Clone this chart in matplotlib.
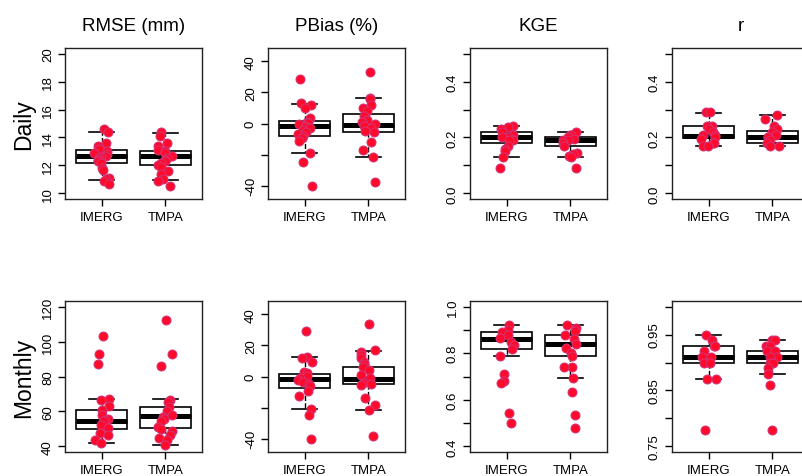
import matplotlib
matplotlib.use("Agg")
import matplotlib.pyplot as plt
import numpy as np

# ---- data ----
groups = ["IMERG", "TMPA"]
titles = ["RMSE (mm)", "PBias (%)", "KGE", "r"]
row_labels = ["Daily", "Monthly"]

# points per station
rmse_daily_imerg = [14.6, 14.4, 13.6, 13.4, 13.2, 13.0, 12.9, 12.8, 12.7, 12.6,
                    12.5, 12.4, 12.3, 12.2, 11.8, 11.7, 11.1, 11.0, 10.9, 10.7]
rmse_daily_tmpa = [14.4, 14.1, 13.6, 13.4, 13.1, 13.0, 12.9, 12.7, 12.5, 12.4,
                   12.3, 12.2, 12.0, 11.9, 11.6, 11.4, 11.0, 10.9, 10.5]
pbias_daily_imerg = [28.5, 13, 12, 10, 3.5, 1, 0.5, -0.5, -1.5, -2,
                     -3, -4.5, -5.5, -7, -8, -9.5, -11, -19, -25, -40]
pbias_daily_tmpa = [33, 16.7, 16, 12, 10, 8, 4.7, 2.5, 1, -0.5,
                    -1.3, -3, -5, -5.5, -12, -17, -21.5, -37.5]
kge_daily_imerg = [0.24, 0.237, 0.23, 0.22, 0.21, 0.2, 0.2, 0.19, 0.19,
                   0.17, 0.16, 0.15, 0.13, 0.09]
kge_daily_tmpa = [0.22, 0.21, 0.21, 0.2, 0.195, 0.19, 0.19, 0.18, 0.17,
                  0.145, 0.14, 0.135, 0.13, 0.09]
r_daily_imerg = [0.29, 0.29, 0.24, 0.24, 0.23, 0.22, 0.21, 0.21, 0.2,
                 0.195, 0.18, 0.18, 0.17, 0.17]
r_daily_tmpa = [0.28, 0.265, 0.24, 0.23, 0.22, 0.21, 0.2, 0.2, 0.19,
                0.18, 0.17, 0.17]

rmse_monthly_imerg = [102.9, 92.6, 87.3, 67.3, 66.3, 63.4, 60.6, 57.7, 55.8,
                      55.0, 54.3, 52.0, 50.5, 47.7, 46.3, 43.8, 42.1]
rmse_monthly_tmpa = [112.2, 93.1, 85.9, 66.5, 65.4, 62.5, 60.0, 58.1, 57.0,
                     55.8, 54.3, 51.1, 50.0, 48.6, 46.7, 44.8, 43.4, 40.6]
pbias_monthly_imerg = [29, 12.7, 11.6, 9.5, 3, 2, 0.4, -1, -2, -3.4,
                       -5, -6, -9.5, -12.5, -21, -24.5, -40]
pbias_monthly_tmpa = [33.5, 16.8, 15.5, 13.7, 11.6, 9.5, 8, 6, 4, 0.9,
                      -1, -3.9, -5, -5.6, -13.8, -18.5, -21.5, -38]
kge_monthly_imerg = [0.922, 0.901, 0.89, 0.876, 0.865, 0.847, 0.836, 0.819,
                     0.79, 0.71, 0.68, 0.673, 0.543, 0.502]
kge_monthly_tmpa = [0.922, 0.91, 0.897, 0.879, 0.862, 0.84, 0.822, 0.802,
                    0.787, 0.74, 0.74, 0.693, 0.633, 0.533, 0.48]
r_monthly_imerg = [0.95, 0.94, 0.93, 0.93, 0.92, 0.91, 0.91, 0.90, 0.90,
                   0.87, 0.87, 0.78]
r_monthly_tmpa = [0.94, 0.94, 0.93, 0.93, 0.92, 0.92, 0.91, 0.91, 0.90,
                  0.90, 0.89, 0.88, 0.86, 0.78]

# box stats: (q1, median, q3, lower whisker, upper whisker) for IMERG, TMPA
rmse_daily_box = [(12.21, 12.67, 13.12, 10.93, 14.38), (12.02, 12.67, 13.02, 10.93, 14.33)]
pbias_daily_box = [(-7.8, -1.8, 1.7, -19.2, 12.4), (-5.6, -0.9, 6.0, -21.5, 16.7)]
kge_daily_box = [(0.179, 0.203, 0.221, 0.129, 0.24), (0.169, 0.191, 0.201, 0.13, 0.221)]
r_daily_box = [(0.197, 0.207, 0.240, 0.17, 0.288), (0.180, 0.201, 0.222, 0.17, 0.279)]
rmse_monthly_box = [(50.1, 54.5, 60.6, 42.1, 67.3), (50.7, 57.3, 62.5, 40.6, 66.9)]
pbias_monthly_box = [(-7.7, -1.7, 1.9, -21.1, 12.3), (-5.0, -1.3, 6.0, -21.3, 16.3)]
kge_monthly_box = [(0.819, 0.862, 0.889, 0.789, 0.922), (0.787, 0.841, 0.879, 0.693, 0.922)]
r_monthly_box = [(0.900, 0.910, 0.929, 0.871, 0.950), (0.900, 0.910, 0.920, 0.880, 0.941)]

# y axis limits and ticks per panel
ylims = [[(10, 20), (-45, 45), (0, 0.5), (0, 0.5)],
         [(40, 120), (-45, 45), (0.4, 1.0), (0.75, 1.0)]]
yticks = [[[10, 12, 14, 16, 18, 20], [-40, -20, 0, 20, 40],
           [0, 0.1, 0.2, 0.3, 0.4, 0.5], [0, 0.1, 0.2, 0.3, 0.4, 0.5]],
          [[40, 60, 80, 100, 120], [-40, -20, 0, 20, 40],
           [0.4, 0.5, 0.6, 0.7, 0.8, 0.9, 1.0], [0.75, 0.8, 0.85, 0.9, 0.95, 1.0]]]
yticklabels = [[["10", "12", "14", "16", "18", "20"], ["-40", "", "0", "20", "40"],
                ["0.0", "", "0.2", "", "0.4", ""], ["0.0", "", "0.2", "", "0.4", ""]],
               [["40", "60", "80", "100", "120"], ["-40", "", "0", "20", "40"],
                ["0.4", "", "0.6", "", "0.8", "", "1.0"], ["0.75", "", "0.85", "", "0.95", ""]]]

points = [[(rmse_daily_imerg, rmse_daily_tmpa), (pbias_daily_imerg, pbias_daily_tmpa),
           (kge_daily_imerg, kge_daily_tmpa), (r_daily_imerg, r_daily_tmpa)],
          [(rmse_monthly_imerg, rmse_monthly_tmpa), (pbias_monthly_imerg, pbias_monthly_tmpa),
           (kge_monthly_imerg, kge_monthly_tmpa), (r_monthly_imerg, r_monthly_tmpa)]]
boxes = [[rmse_daily_box, pbias_daily_box, kge_daily_box, r_daily_box],
         [rmse_monthly_box, pbias_monthly_box, kge_monthly_box, r_monthly_box]]


def pad_lim(lo, hi):
    # R style 4% extension
    d = (hi - lo) * 0.04
    return lo - d, hi + d


plt.rcParams["font.family"] = ["Liberation Sans", "DejaVu Sans"]
plt.rcParams["axes.unicode_minus"] = False

W, H = 802, 477
fig = plt.figure(figsize=(W / 100, H / 100), dpi=100)

lefts = [65, 268, 470, 672]
tops = [49, 302]
aw, ah = 137, 151

rng = np.random.default_rng(7)

for r in range(2):
    for c in range(4):
        ax = fig.add_axes([lefts[c] / W, 1 - (tops[r] + ah) / H, aw / W, ah / H])
        stats = []
        for q1, med, q3, lo, hi in boxes[r][c]:
            stats.append({"q1": q1, "med": med, "q3": q3,
                          "whislo": lo, "whishi": hi, "fliers": []})
        ax.bxp(stats, positions=[1, 2], widths=0.8, capwidths=0.4,
               showfliers=False, patch_artist=True,
               boxprops=dict(facecolor="white", edgecolor="black", linewidth=1.2),
               medianprops=dict(color="black", linewidth=3.6, solid_capstyle="butt"),
               whiskerprops=dict(color="black", linewidth=1.0, linestyle="--"),
               capprops=dict(color="black", linewidth=1.2))
        for gi, vals in enumerate(points[r][c]):
            jit = rng.uniform(-0.12, 0.12, len(vals))
            ax.scatter(gi + 1 + jit, vals, s=42, color="#ff0a2a",
                       edgecolors="#d0347a", linewidths=0.7, zorder=5)

        ax.set_xlim(0.42, 2.58)
        ax.set_ylim(*pad_lim(*ylims[r][c]))
        ax.set_xticks([1, 2])
        ax.set_xticklabels(groups)
        ax.set_yticks(yticks[r][c])
        ax.set_yticklabels(yticklabels[r][c], rotation=90, va="center")
        ax.tick_params(direction="out", length=5, width=1, labelsize=9.5,
                       pad=3, colors="black")
        ax.tick_params(axis="x", pad=4)
        for sp in ax.spines.values():
            sp.set_linewidth(1.0)
            sp.set_color("#222222")

        if r == 0:
            ax.text(0.5, 1 + 18 / ah, titles[c], transform=ax.transAxes,
                    ha="center", va="baseline", fontsize=13.5)

fig.text(24 / W, 1 - 124.5 / H, row_labels[0], rotation=90,
         ha="center", va="center", fontsize=16.5)
fig.text(24 / W, 1 - 377.5 / H, row_labels[1], rotation=90,
         ha="center", va="center", fontsize=16.5)

fig.savefig("out.png", dpi=100)
